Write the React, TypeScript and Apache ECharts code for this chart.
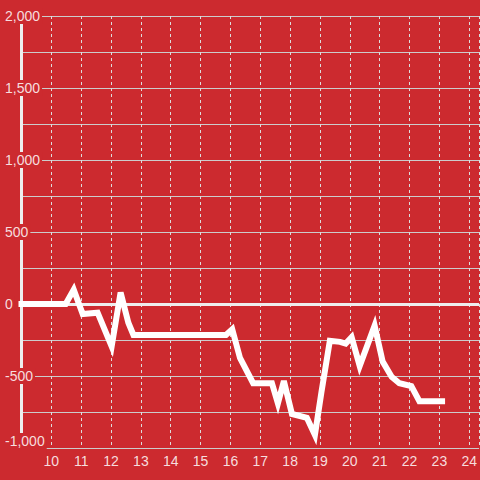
import React, { useEffect, useRef } from "react";
import * as echarts from "echarts";

const hours = [9, 10.48, 10.75, 11.05, 11.55, 12.02, 12.32, 12.58, 12.75, 15.85, 16.06, 16.32, 16.76, 17.39, 17.59, 17.79, 18.06, 18.56, 18.83, 19.05, 19.33, 19.67, 19.86, 20.06, 20.33, 20.83, 21.1, 21.4, 21.66, 22.06, 22.33, 23.09];
const values = [0, 0, 100, -70, -60, -295, 80, -130, -215, -215, -175, -375, -550, -550, -690, -535, -764, -790, -910, -610, -255, -263, -275, -230, -430, -150, -400, -505, -550, -570, -675, -675];
const xTicks = [10, 11, 12, 13, 14, 15, 16, 17, 18, 19, 20, 21, 22, 23, 24];
const yLabelValues = [-1000, -500, 0, 500, 1000, 1500, 2000];

const BG = "#cc2a2f";
const TXT = "rgba(255,255,255,0.85)";
const FONT = "'Liberation Sans', Arial, sans-serif";

export default function App() {
  const ref = useRef<HTMLDivElement>(null);
  useEffect(() => {
    document.body.style.margin = "0";
    const chart = echarts.init(ref.current!, null, { renderer: "svg" });
    const data = hours.map((h, i) => [h, values[i]]);
    const tokenBase = { backgroundColor: BG, color: TXT, fontSize: 14, fontFamily: FONT };
    chart.setOption({
      animation: false,
      backgroundColor: BG,
      grid: { left: 20.5, right: 0, top: 16, bottom: 32, containLabel: false },
      xAxis: {
        type: "value",
        min: 9,
        max: 24.33,
        interval: 1,
        axisLine: { show: false },
        axisTick: { show: false },
        axisLabel: {
          showMinLabel: false,
          showMaxLabel: false,
          color: TXT,
          fontSize: 14,
          fontFamily: FONT,
          margin: 6,
          formatter: (v: number) => (xTicks.indexOf(v) >= 0 ? String(v) : ""),
        },
        splitLine: { show: true, lineStyle: { color: "#dddddd", width: 1, type: [3, 3] } },
      },
      yAxis: [
        {
          type: "value",
          min: -1000,
          max: 2000,
          interval: 250,
          position: "left",
          z: 0,
          axisLine: { show: false },
          axisTick: { show: false },
          axisLabel: { show: false },
          splitLine: { show: true, lineStyle: { color: "#cccccc", width: 1 } },
        },
        {
          type: "value",
          min: -1000,
          max: 2000,
          interval: 250,
          position: "left",
          z: 1,
          axisLine: { show: true, onZero: false, lineStyle: { color: "#eeeeee", width: 3 } },
          axisTick: { show: false },
          splitLine: { show: false },
          axisLabel: {
            align: "left",
            margin: 18.5,
            verticalAlign: "middle",
            formatter: (v: number) => {
              if (yLabelValues.indexOf(v) < 0) return "";
              const s = v.toLocaleString("en-US");
              return v === -1000 ? `{low|${s}}` : `{n|${s}}`;
            },
            rich: {
              n: { ...tokenBase, padding: [1, 2, 1, 2] },
              low: { ...tokenBase, padding: [1, 2, 15, 2] },
            },
          },
        },
      ],
      series: [
        {
          type: "line",
          xAxisIndex: 0,
          yAxisIndex: 0,
          data,
          showSymbol: false,
          symbol: "none",
          z: 3,
          lineStyle: { color: "#ffffff", width: 6, cap: "square", join: "miter" },
          markLine: {
            silent: true,
            symbol: "none",
            z: 2,
            label: { show: false },
            lineStyle: { color: "#eeeeee", width: 3, type: "solid" },
            data: [{ yAxis: 0 }],
          },
        },
      ],
    });
    return () => chart.dispose();
  }, []);
  return <div ref={ref} style={{ position: "absolute", left: 0, top: 0, width: 480, height: 480 }} />;
}
